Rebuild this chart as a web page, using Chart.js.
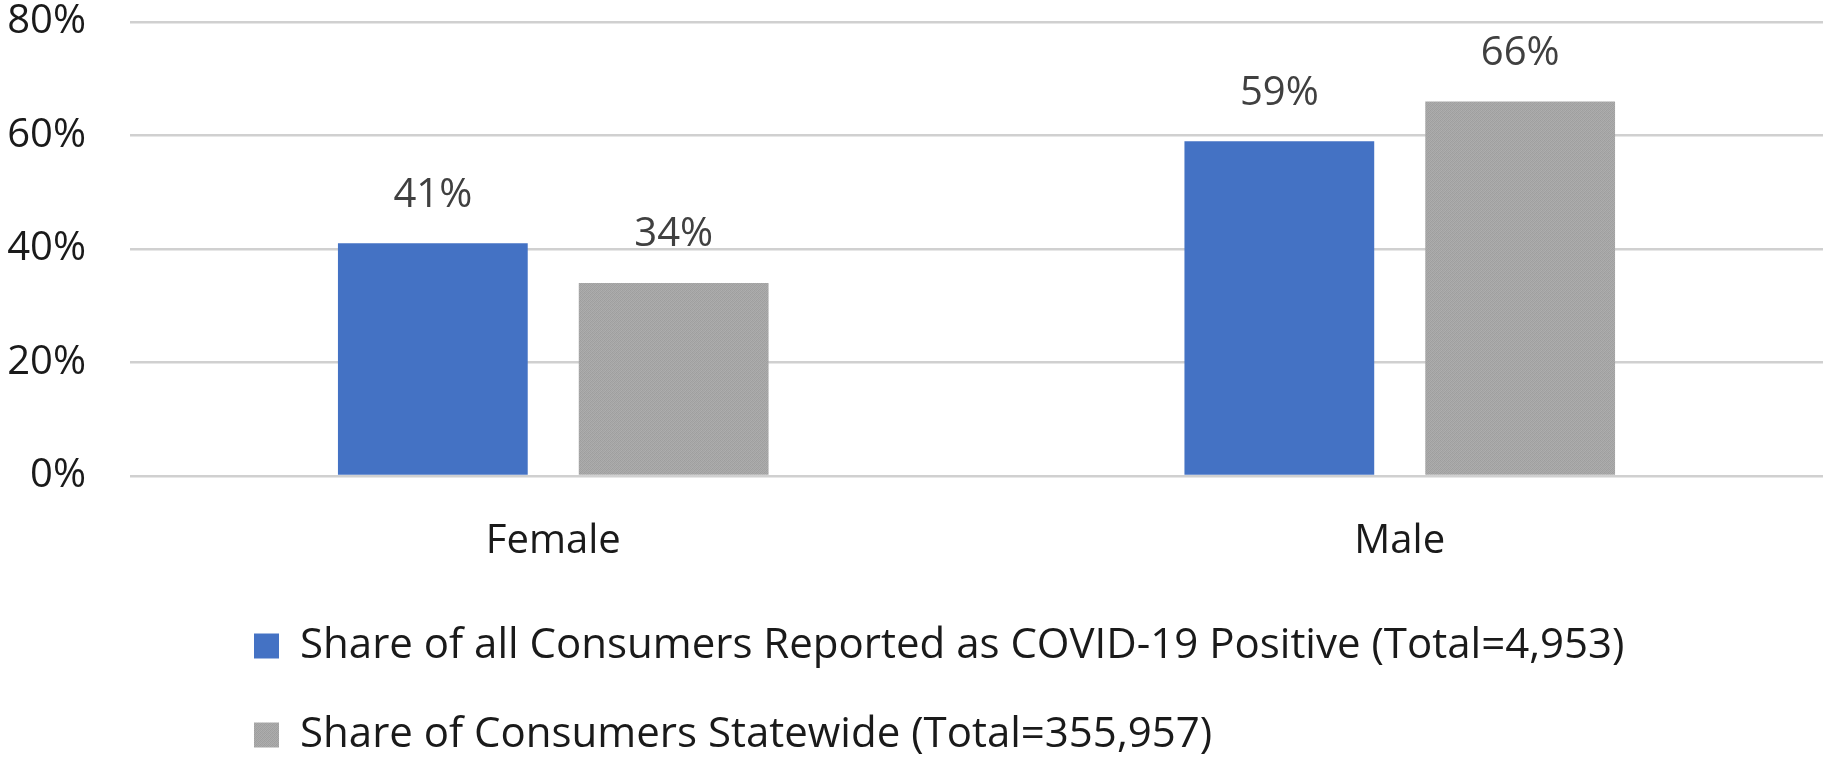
<!DOCTYPE html>
<html>
<head>
<meta charset="utf-8">
<script src="https://cdn.jsdelivr.net/npm/chart.js@4/dist/chart.umd.min.js"></script>
<style>
  html, body { margin: 0; padding: 0; background: #ffffff; }
  #wrap { width: 1823px; height: 759px; }
</style>
</head>
<body>
<div id="wrap"><canvas id="c" width="1823" height="759"></canvas></div>
<script>
// Categories and series (percent of consumers)
const categories = ['Female', 'Male'];
const covidPositiveShare = [41, 59];
const statewideShare = [34, 66];
const seriesNames = [
  'Share of all Consumers Reported as COVID-19 Positive (Total=4,953)',
  'Share of Consumers Statewide (Total=355,957)'
];
const yTicks = [0, 20, 40, 60, 80];

const FONT = '"Open Sans", Lato, sans-serif';

// Fine grey stipple used for the statewide bars
function stipple() {
  const p = document.createElement('canvas');
  p.width = 4; p.height = 4;
  const g = p.getContext('2d');
  const shades = [
    ['#9d9d9d', '#acacac', '#a1a1a1', '#aeaeae'],
    ['#aaaaaa', '#a0a0a0', '#adadad', '#9f9f9f'],
    ['#a2a2a2', '#afafaf', '#9e9e9e', '#ababab'],
    ['#adadad', '#a0a0a0', '#aaaaaa', '#a3a3a3']
  ];
  for (let y = 0; y < 4; y++) for (let x = 0; x < 4; x++) {
    g.fillStyle = shades[y][x];
    g.fillRect(x, y, 1, 1);
  }
  return g.createPattern(p, 'repeat');
}
const ctx = document.getElementById('c').getContext('2d');
const greyFill = stipple();

// Value labels above each bar
const barValueLabels = {
  id: 'barValueLabels',
  afterDatasetsDraw(chart, args, opts) {
    const c = chart.ctx;
    c.save();
    c.font = opts.size + 'px ' + FONT;
    c.fillStyle = opts.color;
    c.textAlign = 'center';
    c.textBaseline = 'middle';
    chart.data.datasets.forEach((ds, di) => {
      chart.getDatasetMeta(di).data.forEach((bar, i) => {
        c.fillText(ds.data[i] + '%', bar.x, bar.y - opts.offset);
      });
    });
    c.restore();
  }
};

// Nudges the legend block so its rows line up under the plot
const legendShift = {
  id: 'legendShift',
  afterLayout(chart, args, opts) {
    const lg = chart.legend;
    if (!lg) return;
    lg.left += opts.x; lg.right += opts.x;
    lg.top += opts.y; lg.bottom += opts.y;
  }
};

new Chart(ctx, {
  type: 'bar',
  data: {
    labels: categories,
    datasets: [
      {
        label: seriesNames[0],
        data: covidPositiveShare,
        backgroundColor: '#4472C4',
        borderWidth: 0,
        categoryPercentage: 0.569,
        barPercentage: 0.788
      },
      {
        label: seriesNames[1],
        data: statewideShare,
        backgroundColor: greyFill,
        borderWidth: 0,
        categoryPercentage: 0.569,
        barPercentage: 0.788
      }
    ]
  },
  options: {
    responsive: false,
    animation: false,
    devicePixelRatio: 1,
    layout: { padding: { left: 4, right: 0, top: 0, bottom: 0 } },
    scales: {
      x: {
        afterFit(axis) { axis.height = 95; },
        grid: { display: false, drawTicks: false },
        border: { display: false },
        ticks: {
          color: '#1a1a1a',
          padding: 42,
          font: { family: FONT, size: 40, lineHeight: 1.2 }
        }
      },
      y: {
        min: 0,
        max: 80,
        afterBuildTicks(axis) { axis.ticks = yTicks.map(v => ({ value: v })); },
        afterFit(axis) {
          axis.width = 126;
          axis.paddingTop = 22;
          axis.paddingBottom = 22;
        },
        grid: { color: '#d0d0d0', lineWidth: 2.5, drawTicks: false },
        border: { display: false },
        ticks: {
          color: '#1a1a1a',
          padding: 44,
          font: { family: FONT, size: 40, lineHeight: 1.1 },
          callback: v => v + '%'
        }
      }
    },
    plugins: {
      tooltip: { enabled: false },
      legend: {
        position: 'bottom',
        align: 'start',
        labels: {
          color: '#1a1a1a',
          boxWidth: 25,
          boxHeight: 25,
          padding: 47,
          font: { family: FONT, size: 42 }
        }
      },
      legendShift: { x: 203, y: 7 },
      barValueLabels: { size: 40, color: '#404040', offset: 48 }
    }
  },
  plugins: [barValueLabels, legendShift]
});
</script>
</body>
</html>
